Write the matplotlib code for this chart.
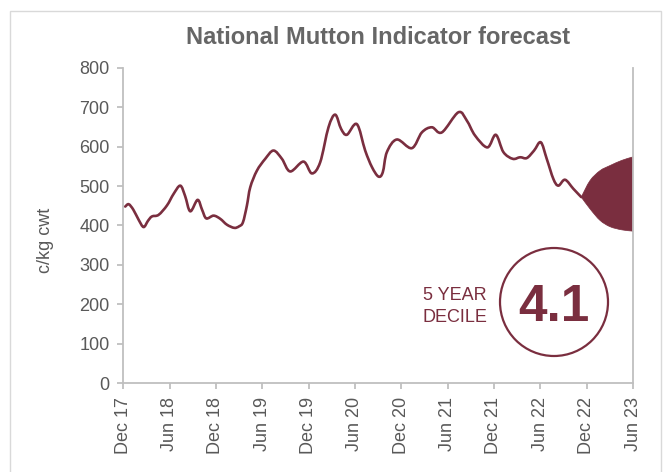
import matplotlib
matplotlib.use("Agg")
import matplotlib.pyplot as plt
from matplotlib.patches import Ellipse, Rectangle, PathPatch
from matplotlib.path import Path

plt.rcParams['font.family'] = ['Liberation Sans', 'DejaVu Sans']

# ---- data (months since Dec 2017, c/kg cwt) ----
hist_month = [0.25, 0.7, 1.3, 2.0, 2.63, 3.2, 3.71, 4.57, 5.66, 6.51, 7.38, 8.0, 8.67,
              9.62, 10.2, 10.74, 11.69, 12.55, 13.42, 14.37, 15.0, 15.49, 16.0, 16.44,
              17.3, 18.38, 19.45, 20.54, 21.61, 23.33, 24.42, 25.49, 26.57, 27.44, 28.2,
              28.95, 30.24, 31.32, 32.2, 33.04, 33.6, 34.13, 35.42, 37.36, 38.66, 39.95,
              41.25, 43.39, 44.48, 45.55, 47.15, 48.23, 49.22, 50.43, 51.38, 52.25, 53.19,
              54.06, 54.83, 55.69, 56.33, 57.2, 58.28, 59.3]
hist_value = [448, 454, 440, 414, 396, 412, 423, 427, 451, 480, 501, 475, 436,
              465, 440, 418, 425, 417, 402, 394, 398, 408, 450, 497,
              539, 569, 590, 569, 537, 562, 532, 560, 649, 681, 645,
              630, 657, 590, 548, 524, 535, 586, 618, 596, 636, 649,
              636, 687, 666, 628, 598, 630, 586, 569, 573, 571, 590,
              611, 569, 518, 501, 516, 493, 472]

fan_month = [59.3, 60.44, 61.73, 63.03, 64.54, 65.83, 66.0]
fan_upper = [472, 514, 539, 552, 565, 573, 574]
fan_lower = [472, 442, 413, 397, 389, 386, 385]

tick_month = [0, 6, 12, 18, 24, 30, 36, 42, 48, 54, 60, 66]
tick_labels = ['Dec 17', 'Jun 18', 'Dec 18', 'Jun 19', 'Dec 19', 'Jun 20',
               'Dec 20', 'Jun 21', 'Dec 21', 'Jun 22', 'Dec 22', 'Jun 23']
y_ticks = [0, 100, 200, 300, 400, 500, 600, 700, 800]

title = 'National Mutton Indicator forecast'
y_label = 'c/kg cwt'
decile_value = '4.1'

# ---- style ----
maroon = '#7A2E3F'
axis_grey = '#BFBFBF'
text_grey = '#595959'


def smooth_path(xs, ys, tension=1 / 6):
    """Catmull-Rom style Bezier path through the data points (Excel 'smoothed line')."""
    n = len(xs)
    verts = [(xs[0], ys[0])]
    codes = [Path.MOVETO]
    for i in range(n - 1):
        x0, y0 = (xs[i - 1], ys[i - 1]) if i > 0 else (xs[i], ys[i])
        x1, y1 = xs[i], ys[i]
        x2, y2 = xs[i + 1], ys[i + 1]
        x3, y3 = (xs[i + 2], ys[i + 2]) if i + 2 < n else (x2, y2)
        c1 = (x1 + (x2 - x0) * tension, y1 + (y2 - y0) * tension)
        c2 = (x2 - (x3 - x1) * tension, y2 - (y3 - y1) * tension)
        verts += [c1, c2, (x2, y2)]
        codes += [Path.CURVE4] * 3
    return verts, codes


W, H = 664, 472
fig = plt.figure(figsize=(W / 100, H / 100), dpi=100)
fig.patch.set_facecolor('white')

# outer chart border
fig.patches.append(Rectangle((10 / W, -0.05), (660.5 - 10) / W, 1 - 11 / H + 0.05,
                             transform=fig.transFigure, fill=False,
                             edgecolor='#D9D9D9', linewidth=1.0))

ax_l, ax_r, ax_t, ax_b = 123.3, 633.0, 67.7, 383.3
ax = fig.add_axes([ax_l / W, 1 - ax_b / H, (ax_r - ax_l) / W, (ax_b - ax_t) / H])

# forecast fan (smoothed edges): upper edge forward, lower edge back, closed
uv, uc = smooth_path(fan_month, fan_upper)
lv, lc = smooth_path(fan_month[::-1], fan_lower[::-1])
fan_verts = uv + lv + [uv[0]]
fan_codes = uc + [Path.LINETO] + lc[1:] + [Path.CLOSEPOLY]
ax.add_patch(PathPatch(Path(fan_verts, fan_codes), facecolor=maroon, edgecolor=maroon,
                       linewidth=0.5, transform=ax.transData, zorder=2))

# historical line (smoothed)
hv, hc = smooth_path(hist_month, hist_value)
ax.add_patch(PathPatch(Path(hv, hc), facecolor='none', edgecolor=maroon, linewidth=1.9,
                       capstyle='round', joinstyle='round', transform=ax.transData,
                       zorder=3))

ax.set_xlim(0, 66)
ax.set_ylim(0, 800)
ax.set_xticks(tick_month)
ax.set_xticklabels(tick_labels, rotation=90)
ax.set_yticks(y_ticks)

for s in ['left', 'bottom', 'right']:
    ax.spines[s].set_color(axis_grey)
    ax.spines[s].set_linewidth(1.3)
ax.spines['top'].set_visible(False)

ax.tick_params(axis='both', colors=axis_grey, labelcolor=text_grey,
               labelsize=13, length=4, width=1.3, direction='out', pad=6)

fig.text(46 / W, 1 - 240 / H, y_label, rotation=90, ha='center', va='center',
         fontsize=13, color=text_grey)

fig.text((ax_l + ax_r) / 2 / W, 1 - 37 / H, title, ha='center', va='center',
         fontsize=17, fontweight='bold', color='#666666')

# decile badge
aw, ah = ax_r - ax_l, ax_b - ax_t
cx, cy, r = 554, 302, 54
ax.add_patch(Ellipse(((cx - ax_l) / aw, (ax_b - cy) / ah), 2 * r / aw, 2 * r / ah,
                     transform=ax.transAxes, fill=False, edgecolor=maroon,
                     linewidth=1.6, zorder=4))
ax.text((cx - ax_l) / aw, (ax_b - cy) / ah, decile_value, transform=ax.transAxes,
        ha='center', va='center_baseline', fontsize=37, fontweight='bold',
        color=maroon, zorder=5)
ax.text((487 - ax_l) / aw, (ax_b - 295) / ah, '5 YEAR', transform=ax.transAxes,
        ha='right', va='center', fontsize=13, color=maroon)
ax.text((487 - ax_l) / aw, (ax_b - 318) / ah, 'DECILE', transform=ax.transAxes,
        ha='right', va='center', fontsize=13, color=maroon)

fig.savefig('out.png', dpi=100)
